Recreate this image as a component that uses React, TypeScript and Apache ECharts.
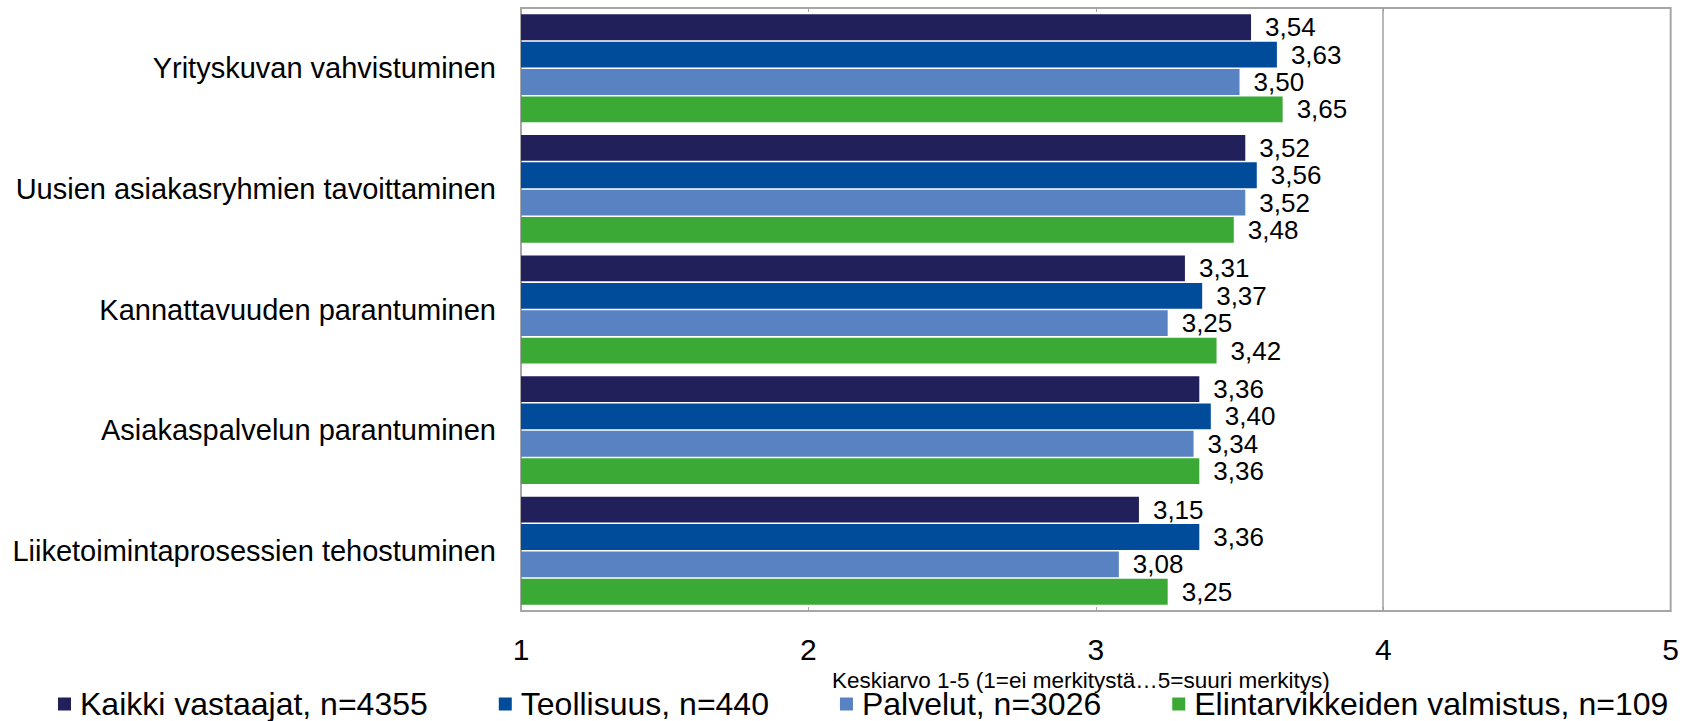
import React, { useEffect, useRef } from "react";
import * as echarts from "echarts";

const categories = [
  "Yrityskuvan vahvistuminen",
  "Uusien asiakasryhmien tavoittaminen",
  "Kannattavuuden parantuminen",
  "Asiakaspalvelun parantuminen",
  "Liiketoimintaprosessien tehostuminen",
];

const seriesNames = [
  "Kaikki vastaajat, n=4355",
  "Teollisuus, n=440",
  "Palvelut, n=3026",
  "Elintarvikkeiden valmistus, n=109",
];

const kaikki = [3.54, 3.52, 3.31, 3.36, 3.15];
const teollisuus = [3.63, 3.56, 3.37, 3.40, 3.36];
const palvelut = [3.50, 3.52, 3.25, 3.34, 3.08];
const elintarvike = [3.65, 3.48, 3.42, 3.36, 3.25];

const seriesValues = [kaikki, teollisuus, palvelut, elintarvike];
const colors = ["#21205B", "#004C9B", "#5882C1", "#3BA935"];

const axisTitle = "Keskiarvo 1-5 (1=ei merkitystä…5=suuri merkitys)";
const xMin = 1;
const xMax = 5;
const xInterval = 1;
const refLineValue = 4;

const FONT = "'Liberation Sans', Arial, sans-serif";

export default function App() {
  const ref = useRef<HTMLDivElement>(null);

  useEffect(() => {
    if (!ref.current) return;
    const chart = echarts.init(ref.current, undefined, { renderer: "svg" });

    const series: any[] = seriesValues.map((vals, i) => ({
      name: seriesNames[i],
      type: "bar",
      data: vals,
      itemStyle: { color: colors[i] },
      barCategoryGap: "10.5%",
      barGap: "6%",
      label: {
        show: true,
        position: "right",
        distance: 14,
        fontSize: 26,
        fontFamily: FONT,
        color: "#000",
        formatter: (p: any) => Number(p.value).toFixed(2).replace(".", ","),
      },
      ...(i === 0
        ? {
            markLine: {
              silent: true,
              symbol: ["none", "none"],
              label: { show: false },
              lineStyle: { color: "#a0a0a0", width: 1.5, type: "solid" },
              data: [{ xAxis: refLineValue }],
            },
          }
        : {}),
    }));

    chart.setOption({
      animation: false,
      backgroundColor: "#fff",
      textStyle: { fontFamily: FONT },
      grid: {
        left: 521,
        right: 9,
        top: 8,
        bottom: 110,
        show: true,
        borderColor: "#a6a6a6",
        borderWidth: 2,
        backgroundColor: "#fff",
      },
      legend: {
        left: 53,
        top: 683,
        padding: [5, 5, 0, 5],
        itemWidth: 13,
        itemHeight: 13,
        itemGap: 71,
        icon: "rect",
        textStyle: { fontSize: 32, lineHeight: 30, color: "#000", fontFamily: FONT, padding: [0, 0, 0, 4] },
        data: seriesNames,
      },
      xAxis: [
        {
          type: "value",
          min: xMin,
          max: xMax,
          interval: xInterval,
          position: "bottom",
          axisLine: { show: true, lineStyle: { color: "#a6a6a6", width: 2 } },
          axisTick: { show: true, inside: true, length: 4, lineStyle: { color: "#a6a6a6" } },
          splitLine: { show: false },
          axisLabel: { fontSize: 30, color: "#000", margin: 23, fontFamily: FONT },
          name: axisTitle,
          nameLocation: "middle",
          nameGap: 52,
          nameTextStyle: { fontSize: 22.5, lineHeight: 20, color: "#000", fontFamily: FONT, padding: [0, 30, 0, 0] },
        },
        {
          type: "value",
          min: xMin,
          max: xMax,
          interval: xInterval,
          position: "top",
          axisLine: { show: false },
          axisTick: { show: true, inside: true, length: 4, lineStyle: { color: "#a6a6a6" } },
          splitLine: { show: false },
          axisLabel: { show: false },
        },
      ],
      yAxis: {
        type: "category",
        inverse: true,
        data: categories,
        axisLine: { show: true, lineStyle: { color: "#a6a6a6", width: 2 } },
        axisTick: { show: false },
        axisLabel: { fontSize: 29, color: "#000", margin: 25, fontFamily: FONT },
      },
      series,
    });

    return () => chart.dispose();
  }, []);

  return (
    <div
      ref={ref}
      style={{ position: "fixed", left: 0, top: 0, width: 1682, height: 721 }}
    />
  );
}
